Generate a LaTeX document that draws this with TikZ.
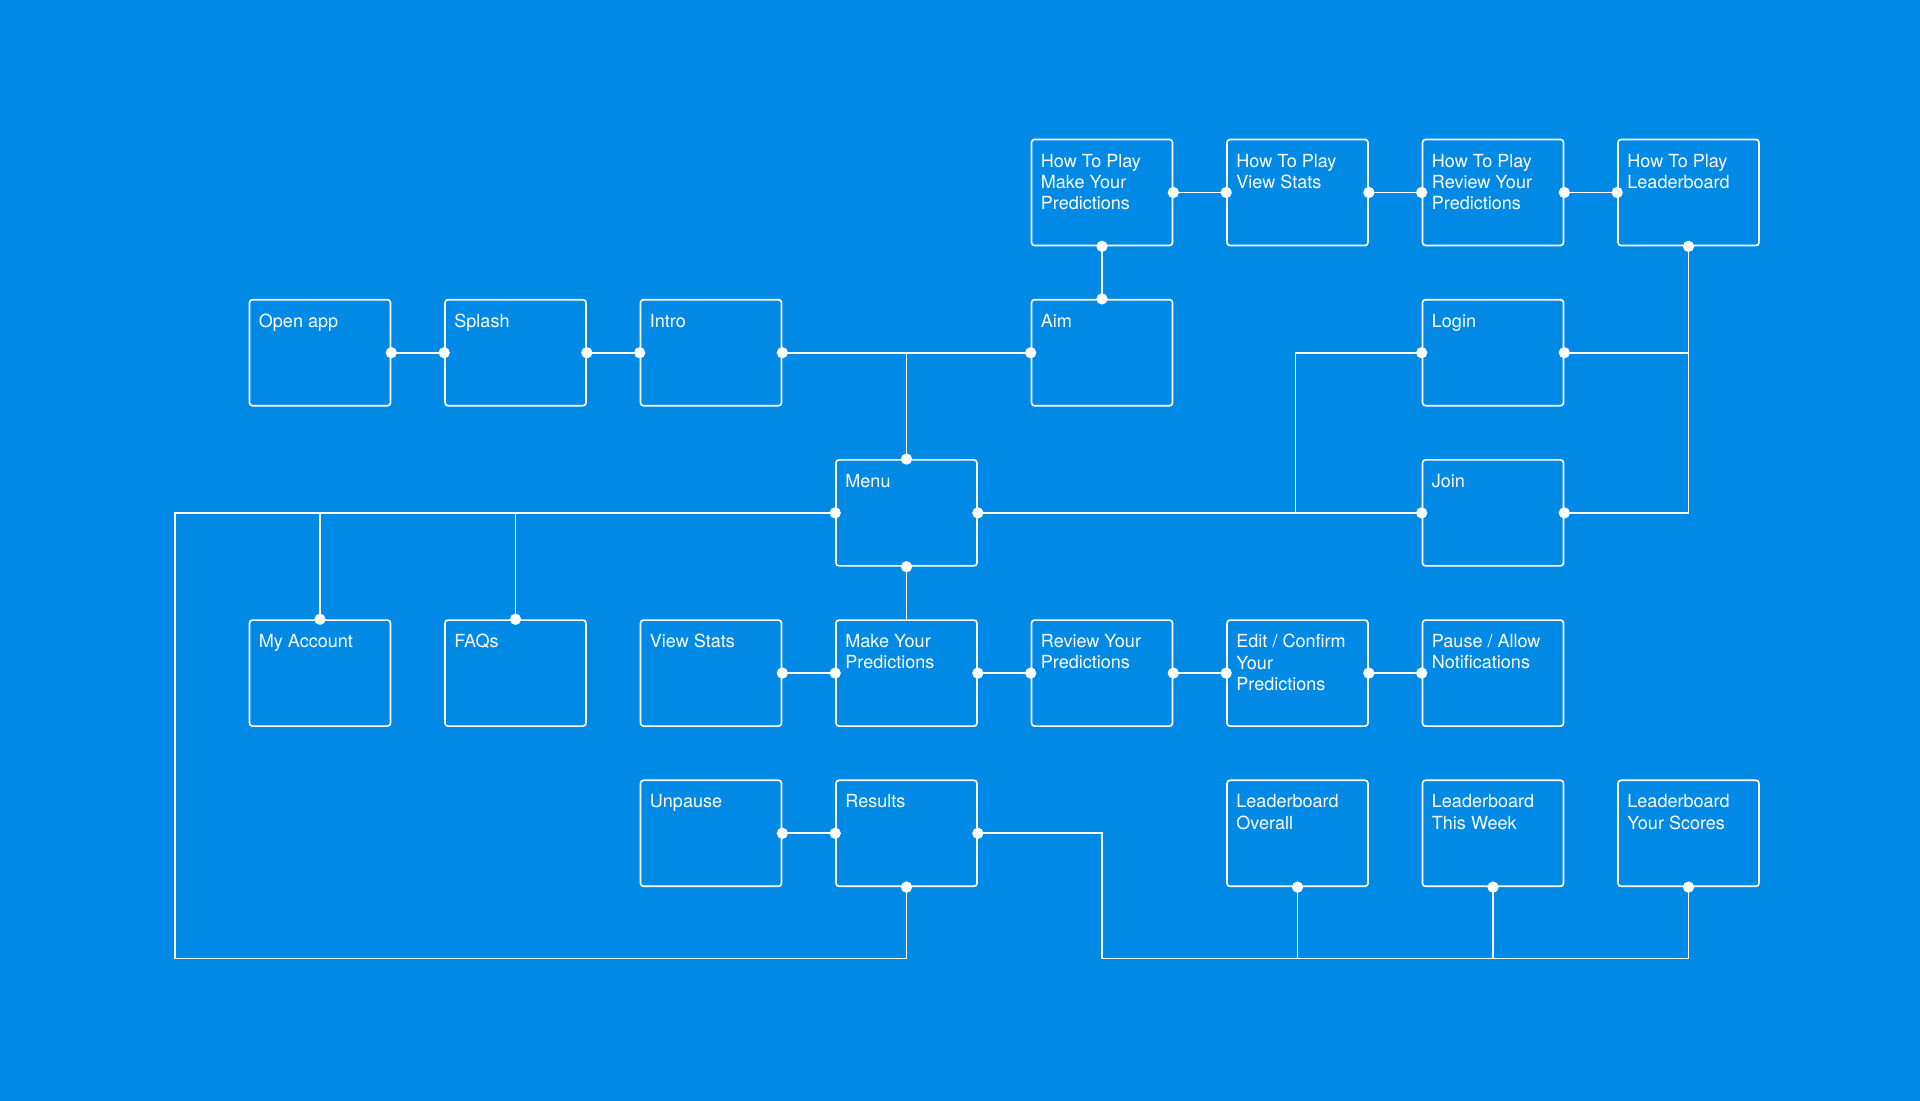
\documentclass[tikz,border=0pt]{standalone}
\usepackage{fontspec}
\setmainfont{TeX Gyre Heros}
\definecolor{bg}{RGB}{0,137,229}
\begin{document}
\begin{tikzpicture}[x=0.03cm,y=-0.03cm,
  box/.style={draw=white, line width=1.4pt, rounded corners=0.09cm,
    minimum width=4.23cm, minimum height=3.18cm, inner sep=0pt},
  lbl/.style={anchor=north west, inner sep=0pt, xshift=0.3cm, yshift=-0.45cm,
    text=white, align=left, font=\fontsize{15.4}{18.2}\selectfont},
  conn/.style={draw=white, line width=1.4pt}]
\fill[bg] (0,0) rectangle (1920,1101);
\useasboundingbox (0,0) rectangle (1920,1101);
% column centres / row centres
\def\Xa{320}\def\Xb{515.5}\def\Xc{711}\def\Xd{906.5}
\def\Xe{1102}\def\Xf{1297.5}\def\Xg{1493}\def\Xh{1688.5}
\def\Ya{192.5}\def\Yb{352.7}\def\Yc{512.9}\def\Yd{673.1}\def\Ye{833.3}
% row 0
\node[box,label={[lbl]north west:{How To Play\\Make Your\\Predictions}}] (htp1) at (\Xe,\Ya) {};
\node[box,label={[lbl]north west:{How To Play\\View Stats}}] (htp2) at (\Xf,\Ya) {};
\node[box,label={[lbl]north west:{How To Play\\Review Your\\Predictions}}] (htp3) at (\Xg,\Ya) {};
\node[box,label={[lbl]north west:{How To Play\\Leaderboard}}] (htp4) at (\Xh,\Ya) {};
% row 1
\node[box,label={[lbl]north west:{Open app}}] (open) at (\Xa,\Yb) {};
\node[box,label={[lbl]north west:{Splash}}] (splash) at (\Xb,\Yb) {};
\node[box,label={[lbl]north west:{Intro}}] (intro) at (\Xc,\Yb) {};
\node[box,label={[lbl]north west:{Aim}}] (aim) at (\Xe,\Yb) {};
\node[box,label={[lbl]north west:{Login}}] (login) at (\Xg,\Yb) {};
% row 2
\node[box,label={[lbl]north west:{Menu}}] (menu) at (\Xd,\Yc) {};
\node[box,label={[lbl]north west:{Join}}] (join) at (\Xg,\Yc) {};
% row 3
\node[box,label={[lbl]north west:{My Account}}] (myacc) at (\Xa,\Yd) {};
\node[box,label={[lbl]north west:{FAQs}}] (faqs) at (\Xb,\Yd) {};
\node[box,label={[lbl]north west:{View Stats}}] (vstats) at (\Xc,\Yd) {};
\node[box,label={[lbl]north west:{Make Your\\Predictions}}] (mkp) at (\Xd,\Yd) {};
\node[box,label={[lbl]north west:{Review Your\\Predictions}}] (review) at (\Xe,\Yd) {};
\node[box,label={[lbl]north west:{Edit / Confirm\\Your\\Predictions}}] (edit) at (\Xf,\Yd) {};
\node[box,label={[lbl]north west:{Pause / Allow\\Notifications}}] (pause) at (\Xg,\Yd) {};
% row 4
\node[box,label={[lbl]north west:{Unpause}}] (unpause) at (\Xc,\Ye) {};
\node[box,label={[lbl]north west:{Results}}] (results) at (\Xd,\Ye) {};
\node[box,label={[lbl]north west:{Leaderboard\\Overall}}] (lb1) at (\Xf,\Ye) {};
\node[box,label={[lbl]north west:{Leaderboard\\This Week}}] (lb2) at (\Xg,\Ye) {};
\node[box,label={[lbl]north west:{Leaderboard\\Your Scores}}] (lb3) at (\Xh,\Ye) {};
% helper coordinates
\coordinate (lx) at (175,0);
\coordinate (jx) at (1295.5,0);
\coordinate (by) at (0,958.5);
% connectors
\draw[conn] (open.east) -- (splash.west);
\draw[conn] (splash.east) -- (intro.west);
\draw[conn] (intro.east) -- (aim.west);
\draw[conn] (menu.north) -- (menu.north |- intro.east);
\draw[conn] (htp1.south) -- (aim.north);
\draw[conn] (htp1.east) -- (htp2.west);
\draw[conn] (htp2.east) -- (htp3.west);
\draw[conn] (htp3.east) -- (htp4.west);
\draw[conn] (htp4.south) |- (join.east);
\draw[conn] (login.east) -- (login.east -| htp4.south);
\draw[conn] (menu.east) -- (join.west);
\draw[conn] (jx |- menu.east) |- (login.west);
\draw[conn] (menu.west) -- (lx |- menu.west) -- (lx |- by) -- (results.south |- by) -- (results.south);
\draw[conn] (myacc.north) -- (myacc.north |- menu.west);
\draw[conn] (faqs.north) -- (faqs.north |- menu.west);
\draw[conn] (menu.south) -- (mkp.north);
\draw[conn] (vstats.east) -- (mkp.west);
\draw[conn] (mkp.east) -- (review.west);
\draw[conn] (review.east) -- (edit.west);
\draw[conn] (edit.east) -- (pause.west);
\draw[conn] (unpause.east) -- (results.west);
\draw[conn] (results.east) -| (review.south |- by) -- (lb3.south |- by) -- (lb3.south);
\draw[conn] (lb1.south) -- (lb1.south |- by);
\draw[conn] (lb2.south) -- (lb2.south |- by);
% dots
\foreach \p in {open.east, splash.west, splash.east, intro.west, intro.east, aim.west, aim.north,
  htp1.south, htp1.east, htp2.west, htp2.east, htp3.west, htp3.east, htp4.west, htp4.south,
  login.west, login.east, menu.north, menu.east, menu.west, menu.south, join.west, join.east,
  myacc.north, faqs.north, vstats.east, mkp.west, mkp.east, review.west, review.east,
  edit.west, edit.east, pause.west, unpause.east, results.west, results.east, results.south,
  lb1.south, lb2.south, lb3.south}
  \fill[white] (\p) circle (0.17cm);
\end{tikzpicture}
\end{document}
